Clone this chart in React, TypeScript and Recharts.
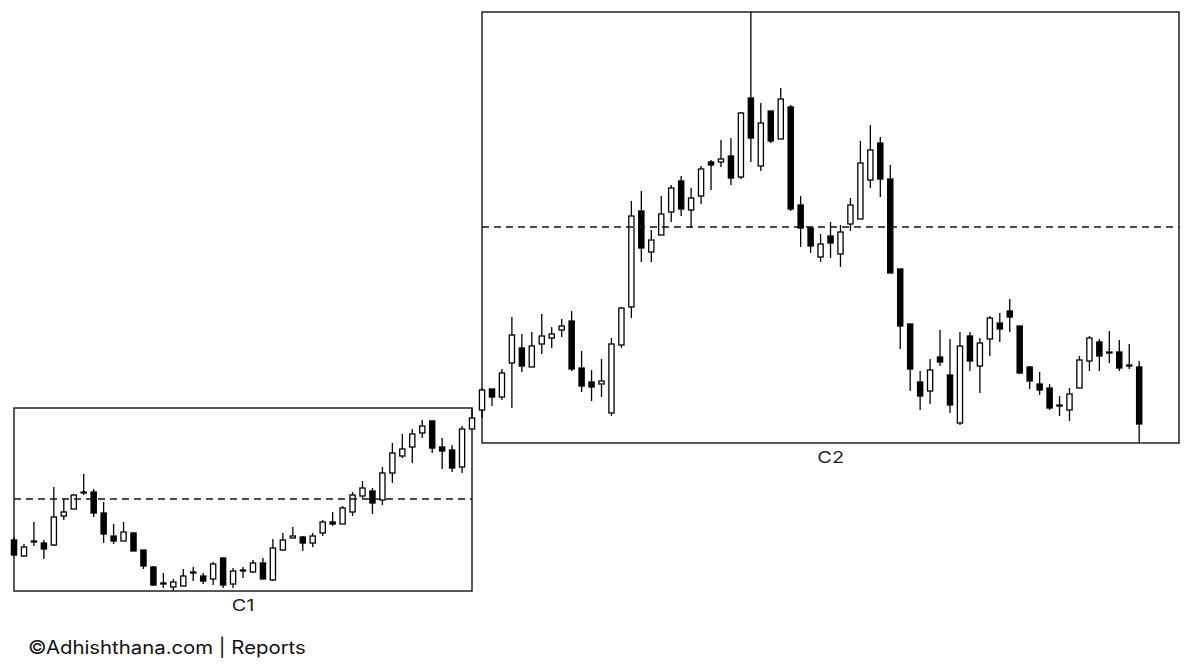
import React from 'react';
import { ComposedChart, Bar, XAxis, YAxis, ReferenceLine, ReferenceArea } from 'recharts';

// [open, high, low, close] per session (arbitrary price units)
const c1Candles: number[][] = [
  [51, 54, 35, 36], [35, 47, 34, 44], [49, 69, 45, 50], [48, 51, 32, 42], [46, 104, 45, 74],
  [75, 92, 71, 79], [82, 97, 82, 96], [98, 117, 96, 99], [99, 102, 74, 78], [78, 89, 48, 57],
  [55, 67, 47, 50], [50, 69, 50, 59], [58, 59, 40, 40], [41, 41, 22, 25], [24, 25, 5, 6],
  [7, 18, 3, 8], [4, 12, 0, 9], [5, 22, 5, 15], [18, 24, 10, 19], [15, 18, 7, 10],
  [12, 29, 6, 27], [33, 34, 3, 6], [7, 23, 3, 20], [20, 24, 13, 21], [19, 31, 18, 28],
  [28, 33, 12, 12], [11, 52, 10, 43], [41, 58, 40, 51], [53, 64, 53, 55], [54, 55, 40, 48],
  [48, 58, 44, 55], [58, 71, 55, 69], [69, 79, 65, 67], [67, 85, 67, 83], [79, 99, 75, 96],
  [95, 110, 93, 103], [100, 103, 77, 88], [91, 124, 86, 118], [118, 148, 108, 138], [135, 157, 133, 142],
  [144, 162, 128, 157], [158, 171, 153, 165], [170, 171, 138, 143], [144, 153, 122, 140], [141, 146, 119, 123],
  [124, 165, 118, 162], [162, 183, 162, 173],
];

const c2Candles: number[][] = [
  [33, 55, 25, 53], [54, 54, 37, 46], [46, 74, 43, 70], [80, 126, 35, 108], [95, 109, 71, 77],
  [76, 111, 76, 97], [99, 129, 89, 107], [105, 116, 95, 109], [113, 124, 106, 117], [122, 132, 72, 74],
  [75, 92, 51, 57], [61, 73, 42, 56], [59, 84, 46, 62], [30, 105, 27, 99], [98, 136, 95, 135],
  [136, 242, 125, 227], [232, 252, 181, 195], [191, 213, 181, 203], [208, 247, 208, 229], [231, 258, 221, 255],
  [262, 267, 227, 234], [233, 255, 215, 245], [247, 277, 239, 274], [281, 283, 253, 278], [281, 303, 276, 284],
  [287, 305, 258, 265], [266, 331, 264, 330], [345, 431, 281, 305], [277, 340, 272, 320], [332, 332, 300, 302],
  [304, 355, 304, 344], [336, 338, 232, 234], [238, 247, 196, 215], [215, 216, 190, 197], [186, 209, 181, 199],
  [207, 221, 185, 200], [189, 218, 176, 211], [219, 245, 212, 238], [224, 302, 224, 280], [263, 318, 255, 293],
  [300, 306, 246, 264], [264, 278, 170, 170], [174, 174, 94, 117], [119, 119, 52, 74], [61, 72, 33, 47],
  [52, 84, 39, 73], [86, 113, 77, 81], [68, 104, 30, 38], [20, 111, 18, 97], [107, 111, 72, 82],
  [77, 105, 50, 100], [104, 127, 87, 125], [120, 130, 101, 114], [132, 144, 111, 126], [117, 117, 69, 70],
  [76, 77, 54, 62], [59, 71, 48, 53], [55, 59, 33, 35], [38, 47, 27, 37], [33, 55, 22, 49],
  [55, 87, 55, 83], [82, 107, 72, 105], [101, 104, 72, 87], [91, 112, 80, 90], [91, 103, 72, 75],
  [78, 99, 74, 77], [76, 82, 0, 19],
];

// dashed reference levels and axis extents
const c1Level = 92;
const c2Level = 216;
const c1Range = { xMax: 46, yMax: 183 };
const c2Range = { xMax: 70, yMax: 431 };

const toRows = (candles: number[][]) =>
  candles.map(([open, high, low, close], i) => ({ i, open, high, low, close }));

const Candle = (props: any) => {
  const { x, y, width, height, payload } = props;
  if (payload == null) return null;
  const top = Math.min(y, y + height);
  const h = Math.abs(height);
  const { open, high, low, close } = payload;
  const k = h / (high - low || 1);
  const py = (v: number) => top + (high - v) * k;
  const cx = x + width / 2;
  const up = close >= open;
  const bodyTop = py(Math.max(open, close));
  const bodyH = Math.max(Math.abs(open - close) * k, 0.8);
  return (
    <g>
      <line x1={cx} x2={cx} y1={top} y2={top + h} stroke="#000" strokeWidth={1.3} />
      <rect
        x={cx - 2.6}
        y={bodyTop}
        width={5.2}
        height={bodyH}
        fill={up ? '#fff' : '#000'}
        stroke="#000"
        strokeWidth={1.3}
      />
    </g>
  );
};

const PAD = 10;

interface PanelProps {
  candles: number[][];
  level: number;
  xMax: number;
  yMax: number;
  left: number;
  top: number;
  width: number;
  height: number;
  label: string;
}

const CandlePanel = ({ candles, level, xMax, yMax, left, top, width, height, label }: PanelProps) => {
  const rows = toRows(candles);
  return (
    <>
      <div style={{ position: 'absolute', left: left - PAD, top: top - PAD }}>
        <ComposedChart
          width={width + PAD * 2}
          height={height + PAD * 2}
          data={rows}
          margin={{ top: PAD, right: PAD, bottom: PAD, left: PAD }}
        >
          <XAxis type="number" dataKey="i" domain={[0, xMax]} hide />
          <YAxis type="number" domain={[0, yMax]} hide />
          <ReferenceArea
            x1={0}
            x2={xMax}
            y1={0}
            y2={yMax}
            fill="#fff"
            fillOpacity={0}
            stroke="#222"
            strokeWidth={1.5}
          />
          <ReferenceLine y={level} stroke="#111" strokeWidth={1.4} strokeDasharray="7 5" />
          <Bar
            dataKey={(d: any) => [d.low, d.high]}
            barSize={6}
            shape={Candle}
            isAnimationActive={false}
          />
        </ComposedChart>
      </div>
      <div
        style={{
          position: 'absolute',
          left,
          width,
          top: top + height + 5,
          textAlign: 'center',
          fontSize: 16,
          lineHeight: '18px',
          color: '#222',
        }}
      >
        <span style={{ display: 'inline-block', transform: 'scaleX(1.25)' }}>{label}</span>
      </div>
    </>
  );
};

export default function App() {
  return (
    <div
      style={{
        position: 'absolute',
        left: 0,
        top: 0,
        width: 1200,
        height: 669,
        background: '#fff',
        fontFamily: 'Inter, "Liberation Sans", sans-serif',
        overflow: 'hidden',
      }}
    >
      <CandlePanel
        candles={c1Candles}
        level={c1Level}
        xMax={c1Range.xMax}
        yMax={c1Range.yMax}
        left={14}
        top={408}
        width={458}
        height={183}
        label="C1"
      />
      <CandlePanel
        candles={c2Candles}
        level={c2Level}
        xMax={c2Range.xMax}
        yMax={c2Range.yMax}
        left={482}
        top={12}
        width={697}
        height={431}
        label="C2"
      />
      <div
        style={{
          position: 'absolute',
          left: 28,
          top: 637,
          fontSize: 18,
          lineHeight: '22px',
          color: '#111',
          transform: 'scaleX(1.13)',
          transformOrigin: 'left center',
          whiteSpace: 'nowrap',
        }}
      >
        ©Adhishthana.com | Reports
      </div>
    </div>
  );
}
